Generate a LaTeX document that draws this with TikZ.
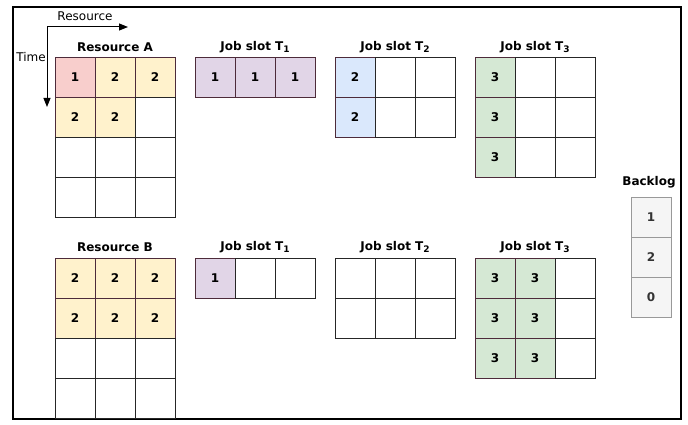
\documentclass[tikz,border=0pt]{standalone}
\usepackage{fontspec}
\setmainfont{DejaVu Sans}
\usepackage{tikz}
\usetikzlibrary{arrows.meta}

\definecolor{cellline}{HTML}{4D2B3A}
\definecolor{pinkfill}{HTML}{F8CECC}
\definecolor{yellowfill}{HTML}{FFF2CC}
\definecolor{purplefill}{HTML}{E1D5E7}
\definecolor{bluefill}{HTML}{DAE8FC}
\definecolor{greenfill}{HTML}{D5E8D4}
\definecolor{backfill}{HTML}{F5F5F5}
\definecolor{backline}{HTML}{999999}
\definecolor{backtext}{HTML}{333333}

\newcommand{\slotsub}[1]{\raisebox{-0.4ex}{\fontsize{9}{9}\selectfont #1}}

\begin{document}
\fontsize{12}{14}\selectfont
\begin{tikzpicture}[x=1pt,y=1pt,node distance=40pt,
    cell/.style={draw=black!85,line width=0.9pt,minimum size=40pt,inner sep=0pt,font=\bfseries},
    pinkcell/.style={cell,draw=cellline,fill=pinkfill},
    yellowcell/.style={cell,draw=cellline,fill=yellowfill},
    purplecell/.style={cell,draw=cellline,fill=purplefill},
    bluecell/.style={cell,draw=cellline,fill=bluefill},
    greencell/.style={cell,draw=cellline,fill=greenfill},
    backcell/.style={cell,draw=backline,fill=backfill,text=backtext},
    title/.style={font=\bfseries,inner sep=0pt},
    axis/.style={->,>={Triangle[length=9pt,width=7pt]},line width=1pt}]

  \useasboundingbox (0,0) rectangle (688,424);
  \draw[line width=2pt] (13,5) rectangle (681,417);

  % axes
  \coordinate (origin) at (47,397);
  \coordinate (resEnd) at (128,397);
  \coordinate (timeEnd) at (47,317);
  \draw[axis] (origin) -- (resEnd);
  \draw[axis] (origin) -- (timeEnd);
  \node[inner sep=0pt] (resAxis) at (85,408) {Resource};
  \node[inner sep=0pt] (timeAxis) at (31,367) {Time};

  % Resource A
  \node[title] (resA) at (115,377) {Resource A};
  \node[pinkcell] (A11) at (75,347) {1};
  \node[yellowcell] (A12) [right of=A11] {2};
  \node[yellowcell] (A13) [right of=A12] {2};
  \node[yellowcell] (A21) [below of=A11] {2};
  \node[yellowcell] (A22) [right of=A21] {2};
  \foreach \r/\c in {2/3,3/1,3/2,3/3,4/1,4/2,4/3}
    \node[cell] (A\r\c) at (35+40*\c,387-40*\r) {};

  % job slots for A
  \node[title] (slotA1) at (255,377) {Job slot T\slotsub{1}};
  \node[purplecell] (ta111) at (215,347) {1};
  \node[purplecell] (ta112) [right of=ta111] {1};
  \node[purplecell] (ta113) [right of=ta112] {1};

  \node[title] (slotA2) at (395,377) {Job slot T\slotsub{2}};
  \node[bluecell] (ta211) at (355,347) {2};
  \node[bluecell] (ta221) [below of=ta211] {2};
  \foreach \r/\c in {1/2,1/3,2/2,2/3}
    \node[cell] (ta2\r\c) at (315+40*\c,387-40*\r) {};

  \node[title] (slotA3) at (535,377) {Job slot T\slotsub{3}};
  \node[greencell] (ta311) at (495,347) {3};
  \node[greencell] (ta321) [below of=ta311] {3};
  \node[greencell] (ta331) [below of=ta321] {3};
  \foreach \r/\c in {1/2,1/3,2/2,2/3,3/2,3/3}
    \node[cell] (ta3\r\c) at (455+40*\c,387-40*\r) {};

  % Resource B
  \node[title] (resB) at (115,177) {Resource B};
  \node[yellowcell] (B11) at (75,146) {2};
  \node[yellowcell] (B12) [right of=B11] {2};
  \node[yellowcell] (B13) [right of=B12] {2};
  \node[yellowcell] (B21) [below of=B11] {2};
  \node[yellowcell] (B22) [right of=B21] {2};
  \node[yellowcell] (B23) [right of=B22] {2};
  \foreach \r/\c in {3/1,3/2,3/3,4/1,4/2,4/3}
    \node[cell] (B\r\c) at (35+40*\c,186-40*\r) {};

  % job slots for B
  \node[title] (slotB1) at (255,177) {Job slot T\slotsub{1}};
  \node[purplecell] (tb111) at (215,146) {1};
  \foreach \r/\c in {1/2,1/3}
    \node[cell] (tb1\r\c) at (175+40*\c,186-40*\r) {};

  \node[title] (slotB2) at (395,177) {Job slot T\slotsub{2}};
  \foreach \r/\c in {1/1,1/2,1/3,2/1,2/2,2/3}
    \node[cell] (tb2\r\c) at (315+40*\c,186-40*\r) {};

  \node[title] (slotB3) at (535,177) {Job slot T\slotsub{3}};
  \node[greencell] (tb311) at (495,146) {3};
  \node[greencell] (tb312) [right of=tb311] {3};
  \node[greencell] (tb321) [below of=tb311] {3};
  \node[greencell] (tb322) [right of=tb321] {3};
  \node[greencell] (tb331) [below of=tb321] {3};
  \node[greencell] (tb332) [right of=tb331] {3};
  \foreach \r in {1,2,3}
    \node[cell] (tb3\r3) at (575,186-40*\r) {};

  % backlog
  \node[title] (backlog) at (649,242) {Backlog};
  \node[backcell] (bl1) at (651,207) {1};
  \node[backcell] (bl2) [below of=bl1] {2};
  \node[backcell] (bl3) [below of=bl2] {0};

\end{tikzpicture}
\end{document}
